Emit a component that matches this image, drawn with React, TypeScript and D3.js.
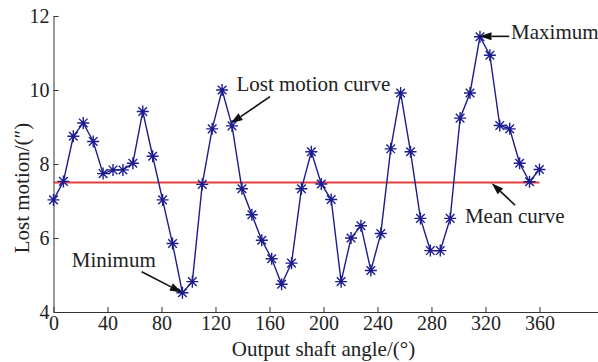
import {useEffect, useRef} from "react";
import * as d3 from "d3";

// output shaft angle (deg) of each measured point
const angles = [0, 7.35, 14.69, 22.04, 29.39, 36.73, 44.08, 51.43, 58.78, 66.12, 73.47, 80.82, 88.16, 95.51,
    102.86, 110.2, 117.55, 124.9, 132.24, 139.59, 146.94, 154.29, 161.63, 168.98, 176.33, 183.67, 191.02,
    198.37, 205.71, 213.06, 220.41, 227.76, 235.1, 242.45, 249.8, 257.14, 264.49, 271.84, 279.18, 286.53,
    293.88, 301.22, 308.57, 315.92, 323.27, 330.61, 337.96, 345.31, 352.65, 360];

// lost motion (arc sec)
const lostMotion = [7.03, 7.53, 8.75, 9.11, 8.61, 7.74, 7.84, 7.84, 8.02, 9.42, 8.21, 7.03, 5.85, 4.52,
    4.82, 7.45, 8.95, 10.0, 9.03, 7.33, 6.63, 5.94, 5.44, 4.75, 5.32, 7.33, 8.33, 7.46, 7.04, 4.82, 6.0,
    6.33, 5.12, 6.12, 8.41, 9.92, 8.33, 6.53, 5.66, 5.66, 6.53, 9.24, 9.92, 11.44, 10.94, 9.04, 8.95,
    8.02, 7.52, 7.85];

const meanValue = 7.5;
const xTicks = [0, 40, 80, 120, 160, 200, 240, 280, 320, 360];
const yTicks = [4, 6, 8, 10, 12];

// annotation text + arrow (from -> to), all in data units
const notes = [
    {text: "Minimum", tx: 13.5, ty: 5.22, x1: 65.3, y1: 5.09, x2: 95, y2: 4.53},
    {text: "Lost motion curve", tx: 135.5, ty: 9.98, x1: 160.4, y1: 9.82, x2: 131.3, y2: 9.1},
    {text: "Maximum", tx: 339, ty: 11.38, x1: 337.6, y1: 11.45, x2: 315.6, y2: 11.45},
    {text: "Mean curve", tx: 304.8, ty: 6.4, x1: 341.9, y1: 6.89, x2: 324.6, y2: 7.48},
];

const FONT = "Liberation Serif";

function App() {
    const ref = useRef<SVGSVGElement>(null);

    useEffect(() => {
        document.body.style.margin = "0";
        const width = 598, height = 362;
        const svg = d3.select(ref.current)
            .attr("width", width)
            .attr("height", height)
            .attr("font-family", FONT)
            .style("display", "block");
        svg.selectAll("*").remove();

        const x = d3.scaleLinear().domain([0, 403]).range([53.5, 597.5]);
        const y = d3.scaleLinear().domain([4, 12]).range([312, 16]);

        const axisColor = "#333";

        // x axis (ticks inward)
        const gx = svg.append("g")
            .attr("transform", `translate(0,${y(4)})`)
            .call(d3.axisBottom(x).tickValues(xTicks).tickSize(-5).tickSizeOuter(0).tickPadding(5));
        gx.attr("font-family", FONT).attr("font-size", 20);
        gx.select(".domain").attr("stroke", axisColor);
        gx.selectAll(".tick line").attr("stroke", axisColor);
        gx.selectAll(".tick text")
            .attr("fill", "#222")
            .attr("dy", "0.78em")
            .attr("y", 2);

        // y axis
        const gy = svg.append("g")
            .attr("transform", `translate(${x(0)},0)`)
            .call(d3.axisLeft(y).tickValues(yTicks).tickSize(-5).tickSizeOuter(0).tickPadding(5));
        gy.attr("font-family", FONT).attr("font-size", 20);
        gy.select(".domain").attr("stroke", axisColor);
        gy.selectAll(".tick line").attr("stroke", axisColor);
        gy.selectAll(".tick text")
            .attr("fill", "#222")
            .attr("x", -4);

        // axis titles
        svg.append("text")
            .attr("x", (x(0) + x(360)) / 2 + 27)
            .attr("y", 356)
            .attr("text-anchor", "middle")
            .attr("fill", "#222")
            .attr("font-size", 21)
            .text("Output shaft angle/(°)");

        svg.append("text")
            .attr("transform", `translate(29,${(y(4) + y(12)) / 2 + 24}) rotate(-90)`)
            .attr("text-anchor", "middle")
            .attr("fill", "#222")
            .attr("font-size", 21)
            .text("Lost motion/(″)");

        // mean curve
        svg.append("line")
            .attr("x1", x(0)).attr("x2", x(360))
            .attr("y1", y(meanValue)).attr("y2", y(meanValue))
            .attr("stroke", "#e0413f")
            .attr("stroke-width", 2);

        const pts = angles.map((a, i) => ({a, v: lostMotion[i]}));
        const blue = "#1c1c8f";

        const line = d3.line<{a: number, v: number}>()
            .x(d => x(d.a))
            .y(d => y(d.v));

        svg.append("path")
            .attr("d", line(pts))
            .attr("fill", "none")
            .attr("stroke", blue)
            .attr("stroke-width", 1.4);

        // asterisk markers
        const r = 6, rd = 4.3;
        const star = `M${-r},0L${r},0M0,${-r}L0,${r}M${-rd},${-rd}L${rd},${rd}M${-rd},${rd}L${rd},${-rd}`;
        svg.selectAll(".mark")
            .data(pts)
            .enter()
            .append("path")
            .attr("transform", d => `translate(${x(d.a)},${y(d.v)})`)
            .attr("d", star)
            .attr("stroke", blue)
            .attr("stroke-width", 1.4)
            .attr("fill", "none");

        // annotations
        notes.forEach(n => {
            svg.append("text")
                .attr("x", x(n.tx))
                .attr("y", y(n.ty))
                .attr("fill", "#222")
                .attr("font-size", 21)
                .text(n.text);

            const X1 = x(n.x1), Y1 = y(n.y1), X2 = x(n.x2), Y2 = y(n.y2);
            const ang = Math.atan2(Y2 - Y1, X2 - X1);
            const len = 12, w = 4;
            const bx = X2 - len * Math.cos(ang), by = Y2 - len * Math.sin(ang);
            svg.append("line")
                .attr("x1", X1).attr("y1", Y1)
                .attr("x2", bx).attr("y2", by)
                .attr("stroke", "#111")
                .attr("stroke-width", 1.6);
            const px = -Math.sin(ang) * w, py = Math.cos(ang) * w;
            svg.append("path")
                .attr("d", `M${X2},${Y2}L${bx + px},${by + py}L${bx - px},${by - py}Z`)
                .attr("fill", "#111");
        });
    }, []);

    return <svg ref={ref}></svg>;
}

export default App;
